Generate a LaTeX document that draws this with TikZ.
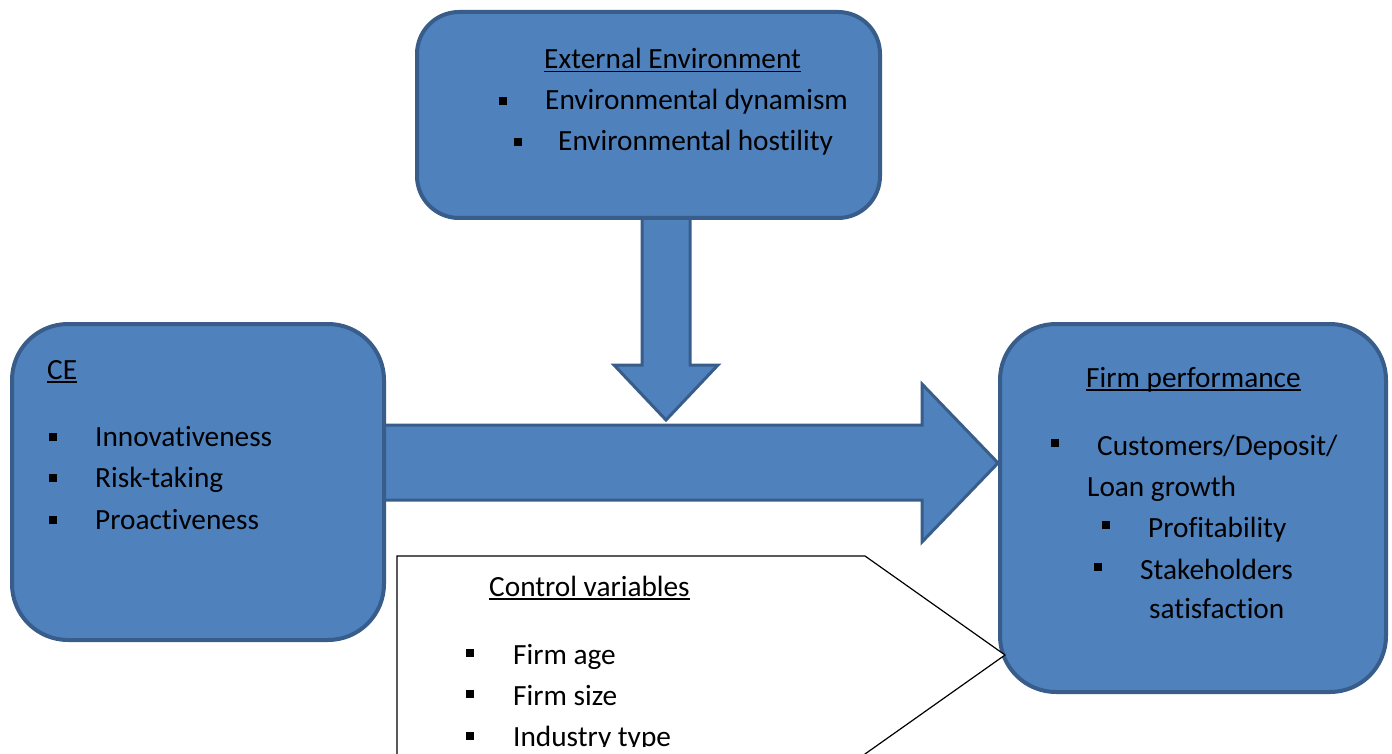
\documentclass[tikz,border=0pt]{standalone}
\usepackage{fontspec}
\setmainfont{Carlito}[Ligatures={NoCommon}]
\newcommand\myul[1]{\setbox0\hbox{#1}\leavevmode\rlap{\usebox0}\rule[-3.5pt]{\wd0}{1.4pt}}
\definecolor{boxfill}{HTML}{4F81BD}
\definecolor{boxline}{HTML}{385D8A}
\begin{document}
\begin{tikzpicture}[x=1pt,y=-1pt,
  box/.style={draw=boxline, fill=boxfill, line width=4pt, rounded corners=#1, inner sep=0pt},
  blockarrow/.style={draw=boxline, fill=boxfill, line width=3pt, line join=miter},
  txt/.style={anchor=base west, inner sep=0pt, font=\fontsize{29.3}{35}\selectfont},
  bul/.style={fill=black, minimum size=8pt, inner sep=0pt},
  callout/.style={draw=black, fill=white, line width=1.2pt, line join=miter}]
\useasboundingbox (0,0) rectangle (1392,754);
\clip (0,0) rectangle (1392,754);
% block arrows
\draw[blockarrow] (642,216) -- (690,216) -- (690,365) -- (718,365) -- (666,420) -- (614,365) -- (642,365) -- cycle;
\draw[blockarrow] (380,425) -- (922,425) -- (922,384) -- (998,463) -- (922,542) -- (922,500) -- (380,500) -- cycle;
% boxes
\node[box=42pt, minimum width=463pt, minimum height=206pt] (ext) at (648.5,115) {};
\node[box=56pt, minimum width=372pt, minimum height=316pt] (ce) at (198,482) {};
\node[box=56pt, minimum width=386pt, minimum height=368pt] (fp) at (1193,508) {};
% external environment text
\node[txt] (exttitle) at (544,69) {\myul{External Environment}};
\node[bul] (eb1) at (503,101) {};
\node[txt] (ext1) at (545,110) {Environmental dynamism};
\node[bul] (eb2) at (518,142) {};
\node[txt] (ext2) at (558,151) {Environmental hostility};
% CE text
\node[txt] (cetitle) at (47,379) {\myul{CE}};
\node[bul] (cb1) at (53,437) {};
\node[txt] (ce1) at (95,446) {Innovativeness};
\node[bul] (cb2) at (53,478) {};
\node[txt] (ce2) at (95,487) {Risk-taking};
\node[bul] (cb3) at (53,520) {};
\node[txt] (ce3) at (95,529) {Proactiveness};
% firm performance text
\node[txt] (fptitle) at (1086,387) {\myul{Firm performance}};
\node[bul] (fb1) at (1055,443) {};
\node[txt] (fp1) at (1097,455) {Customers/Deposit/};
\node[txt] (fp1b) at (1087,496) {Loan growth};
\node[bul] (fb2) at (1106,525) {};
\node[txt] (fp2) at (1148,537) {Profitability};
\node[bul] (fb3) at (1098,567) {};
\node[txt] (fp3) at (1140,579) {Stakeholders};
\node[txt] (fp3b) at (1149,618) {satisfaction};
% control variables callout
\draw[callout] (397,556) -- (865,556) -- (1005,655) -- (865,754) -- (865,770) -- (397,770) -- cycle;
\coordinate (ctip) at (1005,655);
\node[txt] (cvtitle) at (489,596) {\myul{Control variables}};
\node[bul] (vb1) at (470,653) {};
\node[txt] (cv1) at (513,664) {Firm age};
\node[bul] (vb2) at (470,694) {};
\node[txt] (cv2) at (513,705) {Firm size};
\begin{scope}
\clip (398,557) rectangle (864,746);
\node[bul] (vb3) at (470,736) {};
\node[txt] (cv3) at (513,746) {Industry type};
\end{scope}
\end{tikzpicture}
\end{document}
